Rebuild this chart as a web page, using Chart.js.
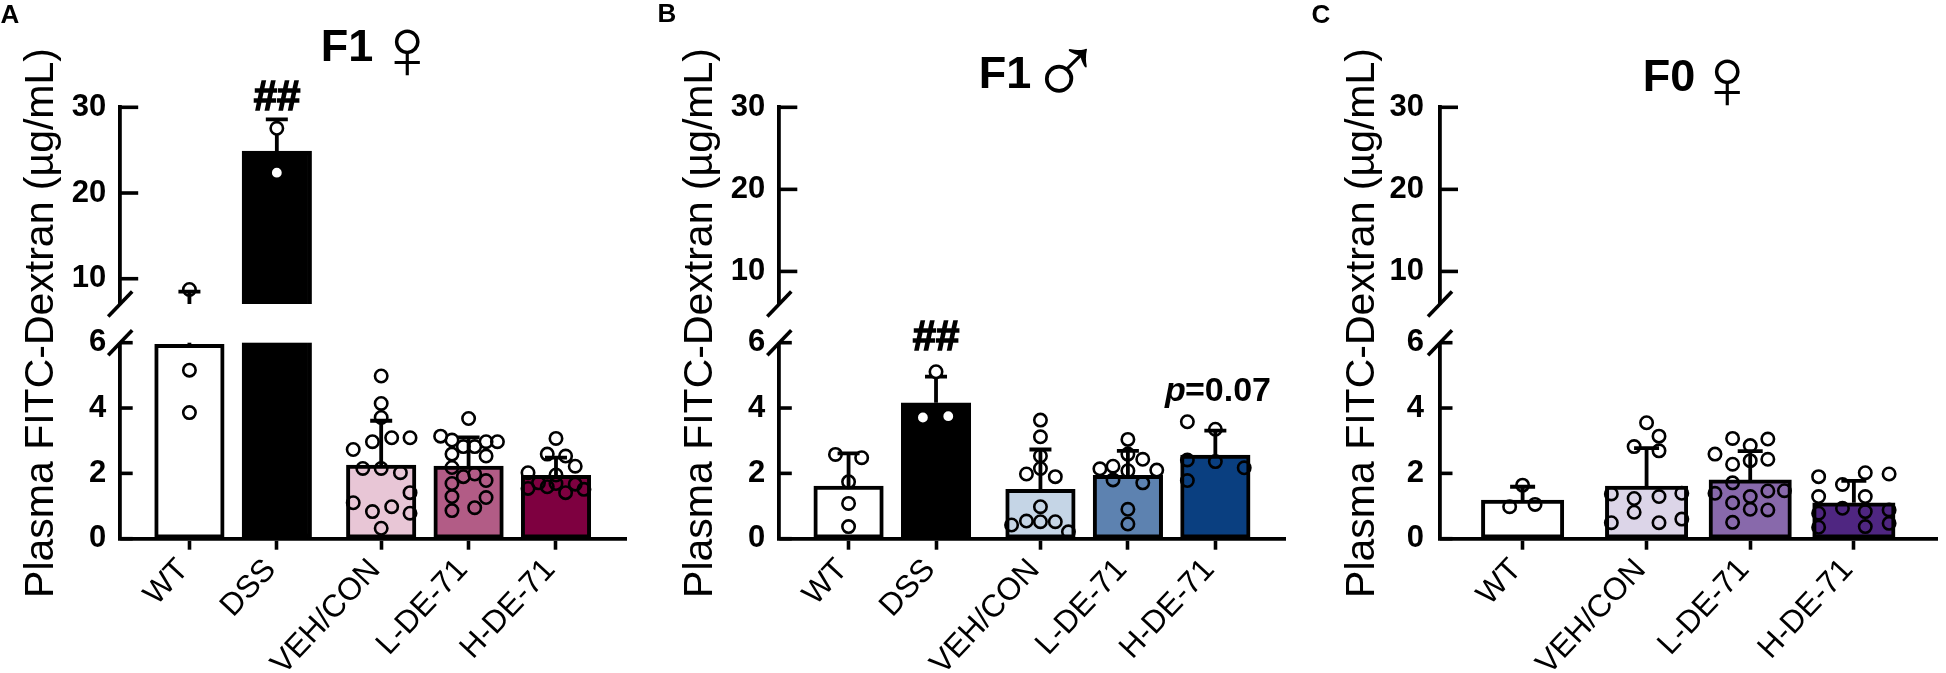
<!DOCTYPE html>
<html>
<head>
<meta charset="utf-8">
<title>Plasma FITC-Dextran</title>
<script src="https://cdn.jsdelivr.net/npm/chart.js@4/dist/chart.umd.js"></script>
<style>
  html, body { margin: 0; padding: 0; background: #fff; overflow: hidden; }
  canvas { position: absolute; top: 0; }
</style>
</head>
<body>
<canvas id="panelA" width="650" height="673" style="left:0"></canvas>
<canvas id="panelB" width="650" height="673" style="left:650px"></canvas>
<canvas id="panelC" width="646" height="673" style="left:1300px"></canvas>
<script>
// Shared axis values
const yTicks = [0, 2, 4, 6, 10, 20, 30];
const yTitle = 'Plasma FITC-Dextran (µg/mL)';

// Panel A, F1 female
const groupsA = ['WT', 'DSS', 'VEH/CON', 'L-DE-71', 'H-DE-71'];
const meansA = [5.95, 24.9, 2.25, 2.22, 1.94];
const errTopsA = [8.5, 28.6, 3.61, 3.1, 2.48];
const dotsA = [
  [8.75, 5.16, 3.86],
  [27.55, 22.37],
  [4.98, 4.14, 3.71, 3.09, 3.09, 2.97, 2.73, 2.15, 2.15, 2.02, 1.41, 1.1, 0.98, 0.83, 0.78, 0.32],
  [3.68, 3.14, 3.02, 2.82, 2.82, 2.97, 2.97, 2.59, 2.53, 2.18, 1.9, 1.98, 1.69, 1.78, 1.29, 1.26, 0.86, 0.95],
  [3.07, 2.59, 2.53, 2.22, 2.02, 1.95, 1.54, 1.59, 1.41, 1.67, 1.71, 1.69, 1.51]
];
const jitterA = [
  [0, 0, 0],
  [0, 0],
  [0, 0, 0, 0.33, 0.12, -0.1, -0.32, -0.21, 0, 0.22, 0.33, -0.32, 0.12, -0.1, 0.33, 0],
  [0, -0.32, -0.19, -0.06, 0.07, 0.2, 0.33, -0.19, 0.2, -0.19, -0.06, 0.07, -0.19, 0.2, -0.19, 0.2, -0.19, 0.07],
  [0, -0.1, 0.11, 0.22, -0.32, 0, -0.32, -0.1, 0.11, 0.22, -0.2, 0, 0.32]
];

// Panel B, F1 male
const groupsB = ['WT', 'DSS', 'VEH/CON', 'L-DE-71', 'H-DE-71'];
const meansB = [1.61, 4.16, 1.51, 1.94, 2.56];
const errTopsB = [2.61, 4.96, 2.73, 2.69, 3.31];
const dotsB = [
  [2.58, 2.48, 1.74, 1.08, 0.37],
  [5.11, 3.71, 3.75],
  [3.63, 3.12, 2.53, 2.15, 1.98, 1.9, 0.98, 0.54, 0.52, 0.52, 0.42, 0.21],
  [3.04, 2.59, 2.43, 2.22, 2.14, 2.08, 2.1, 1.8, 1.71, 0.9, 0.45],
  [3.58, 3.35, 2.41, 2.36, 2.17, 1.78]
];
const jitterB = [
  [-0.15, 0.15, 0, 0, 0],
  [0, -0.15, 0.14],
  [0, 0, 0, 0, -0.16, 0.17, 0, -0.16, 0, 0.17, -0.33, 0.32],
  [0, 0, 0.17, -0.17, -0.32, 0, 0.33, -0.17, 0.17, 0, 0],
  [-0.32, 0, -0.32, 0, 0.33, -0.32]
];

// Panel C, F0 female
const groupsC = ['WT', 'VEH/CON', 'L-DE-71', 'H-DE-71'];
const meansC = [1.18, 1.61, 1.8, 1.1];
const errTopsC = [1.59, 2.77, 2.68, 1.77];
const dotsC = [
  [1.64, 0.98, 1.05],
  [3.55, 3.14, 2.82, 2.69, 1.37, 1.23, 1.29, 1.39, 0.81, 0.49, 0.49, 0.6],
  [3.07, 3.05, 2.85, 2.59, 2.43, 2.39, 2.28, 1.71, 1.39, 1.47, 1.46, 1.29, 1.1, 0.9, 0.88, 0.5],
  [1.9, 2.02, 1.98, 1.66, 1.29, 1.29, 0.93, 0.78, 0.83, 0.88, 0.35, 0.37, 0.47]
];
const jitterC = [
  [0, -0.125, 0.12],
  [0, 0.12, -0.12, 0.12, -0.34, -0.12, 0.12, 0.34, -0.12, -0.34, 0.12, 0.34],
  [-0.17, 0.17, 0, -0.34, 0.17, 0, -0.17, -0.17, -0.34, 0.33, 0.17, 0, -0.17, 0, 0.17, -0.17],
  [-0.34, 0.11, 0.34, -0.11, -0.34, 0.11, -0.11, -0.34, 0.11, 0.34, -0.34, 0.11, 0.34]
];

// Piecewise y scale with an axis break
class BrokenScale extends Chart.LinearScale {
  static id = 'broken';
  static defaults = {};

  getDecimalForValue(value) {
    const { breakLow, breakHigh, lowShare, gapShare } = this.options;
    if (value <= breakLow) return (value / breakLow) * lowShare;
    if (value < breakHigh) return lowShare + ((value - breakLow) / (breakHigh - breakLow)) * gapShare;
    return lowShare + gapShare + ((value - breakHigh) / (this.max - breakHigh)) * (1 - lowShare - gapShare);
  }

  getPixelForValue(value) {
    if (value === null) return NaN;
    return this.getPixelForDecimal(this.getDecimalForValue(value));
  }

  getValueForPixel(pixel) {
    const { breakLow, breakHigh, lowShare, gapShare } = this.options;
    const d = this.getDecimalForPixel(pixel);
    if (d <= lowShare) return (d / lowShare) * breakLow;
    if (d < lowShare + gapShare) return breakLow + ((d - lowShare) / gapShare) * (breakHigh - breakLow);
    return breakHigh + ((d - lowShare - gapShare) / (1 - lowShare - gapShare)) * (this.max - breakHigh);
  }
}
Chart.register(BrokenScale);

// Draws error bars between the bars and the dots
const errorBarPlugin = {
  id: 'errorBars',
  afterDatasetDraw(chart, args, opts) {
    if (args.meta.type !== 'bar') return;
    const ctx = chart.ctx;
    const y = chart.scales.y;
    const x = chart.scales.x;
    ctx.save();
    ctx.strokeStyle = '#000';
    ctx.lineWidth = 3.8;
    opts.slots.forEach((slot, i) => {
      const px = x.getPixelForValue(slot);
      const top = y.getPixelForValue(opts.tops[i]);
      ctx.beginPath();
      ctx.moveTo(px, y.getPixelForValue(opts.means[i]));
      ctx.lineTo(px, top);
      ctx.moveTo(px - opts.capHalf, top);
      ctx.lineTo(px + opts.capHalf, top);
      ctx.stroke();
    });
    ctx.restore();
  }
};

// Axis break, inward y ticks and the free text of each panel
const panelDecorPlugin = {
  id: 'panelDecor',
  afterDatasetsDraw(chart, args, opts) {
    const ctx = chart.ctx;
    const y = chart.scales.y;
    const axisX = chart.chartArea.left;
    const lowY = y.getPixelForValue(y.options.breakLow);
    const highY = y.getPixelForValue(y.options.breakHigh);

    ctx.save();
    ctx.fillStyle = '#fff';
    ctx.fillRect(axisX - 3, highY, chart.width - axisX + 3, lowY - highY);

    ctx.strokeStyle = '#000';
    ctx.lineWidth = 3.6;
    yTicks.forEach(v => {
      const len = v > y.options.breakLow ? 18 : 12.5;
      const py = y.getPixelForValue(v);
      ctx.beginPath();
      ctx.moveTo(axisX, py);
      ctx.lineTo(axisX + len, py);
      ctx.stroke();
    });
    [highY, lowY].forEach(py => {
      ctx.beginPath();
      ctx.moveTo(axisX - 12, py + 12.5);
      ctx.lineTo(axisX + 12, py - 12.5);
      ctx.stroke();
    });

    ctx.fillStyle = '#000';
    ctx.textBaseline = 'middle';
    opts.labels.forEach(item => {
      ctx.font = item.font;
      ctx.textAlign = item.align || 'center';
      ctx.fillText(item.text, item.x, item.y);
      if (item.heavy) {
        ctx.lineWidth = item.heavy;
        ctx.strokeText(item.text, item.x, item.y);
      }
    });
    ctx.restore();
  }
};

function buildPanel(id, cfg) {
  const slots = cfg.slots;
  const dotPoints = [];
  const dotFills = [];
  cfg.dots.forEach((values, g) => {
    values.forEach((v, k) => {
      dotPoints.push({ x: slots[g] + cfg.jitter[g][k], y: v });
      dotFills.push(cfg.groups[g] === 'DSS' ? '#fff' : 'rgba(0,0,0,0)');
    });
  });

  return new Chart(document.getElementById(id), {
    type: 'bar',
    data: {
      datasets: [
        {
          type: 'scatter',
          order: 1,
          data: dotPoints,
          clip: false,
          pointRadius: 6.2,
          pointBorderWidth: 2.6,
          pointBorderColor: '#000',
          pointBackgroundColor: dotFills
        },
        {
          type: 'bar',
          order: 2,
          data: slots.map((s, i) => ({ x: s, y: cfg.means[i] })),
          backgroundColor: cfg.colors,
          borderColor: '#000',
          borderWidth: 4,
          borderSkipped: false,
          barThickness: cfg.barWidth,
          clip: false
        }
      ]
    },
    options: {
      responsive: false,
      animation: false,
      devicePixelRatio: 1,
      layout: { padding: { left: 0, top: 107.3, right: cfg.rightPad, bottom: 0 } },
      plugins: {
        legend: { display: false },
        tooltip: { enabled: false },
        errorBars: { slots: slots, tops: cfg.tops, means: cfg.means, capHalf: cfg.capHalf },
        panelDecor: { labels: cfg.labels }
      },
      scales: {
        x: {
          type: 'linear',
          min: cfg.xMin,
          max: cfg.xMax,
          offset: false,
          afterBuildTicks: axis => { axis.ticks = slots.map(s => ({ value: s })); },
          afterFit: axis => { axis.height = 134.3; axis.paddingLeft = 0; axis.paddingRight = 0; },
          border: { color: '#000', width: 3.8 },
          grid: { offset: false, drawOnChartArea: false, drawTicks: true, tickLength: 11, tickWidth: 3.6, tickColor: '#000' },
          ticks: {
            autoSkip: false,
            minRotation: 47,
            maxRotation: 47,
            padding: 2,
            labelOffset: -6,
            color: '#000',
            font: { size: 31.5 },
            callback: value => cfg.groups[slots.indexOf(value)]
          }
        },
        y: {
          type: 'broken',
          min: 0,
          max: 30,
          breakLow: 6,
          breakHigh: cfg.breakHigh,
          lowShare: 196 / 431.4,
          gapShare: 38.7 / 431.4,
          afterBuildTicks: axis => { axis.ticks = yTicks.map(v => ({ value: v })); },
          afterFit: axis => { axis.width = cfg.axisX; axis.paddingTop = 0; axis.paddingBottom = 0; },
          border: { color: '#000', width: 3.8 },
          grid: { drawOnChartArea: false, drawTicks: false },
          title: {
            display: true,
            text: yTitle,
            color: '#000',
            font: { size: 41, lineHeight: 1.2 },
            padding: { top: cfg.titlePad, bottom: 0 }
          },
          ticks: {
            autoSkip: false,
            padding: cfg.tickPad,
            color: '#000',
            font: { size: 31, weight: 'bold' },
            callback: value => String(value)
          }
        }
      }
    },
    plugins: [errorBarPlugin, panelDecorPlugin]
  });
}

Chart.defaults.font.family = '"Liberation Sans", Arial, sans-serif';

const letterFont = 'bold 26px "Liberation Sans"';
const headFont = 'bold 45px "Liberation Sans"';
const femaleFont = '88px "Liberation Sans"';
const maleFont = '100px "Liberation Sans"';

buildPanel('panelA', {
  groups: groupsA, means: meansA, tops: errTopsA, dots: dotsA, jitter: jitterA,
  slots: [1, 2, 3.194, 4.194, 5.194],
  colors: ['#ffffff', '#000000', '#e8c6d6', '#b25c86', '#7e0040'],
  barWidth: 69.5, capHalf: 11,
  axisX: 120.2, rightPad: 24, xMin: 0.208, xMax: 5.995,
  breakHigh: 7.05, titlePad: 17, tickPad: 14,
  labels: [
    { text: 'A', x: 10, y: 16, font: letterFont },
    { text: 'F1', x: 347, y: 49, font: headFont },
    { text: '♀', x: 407, y: 55, font: femaleFont },
    { text: '##', x: 277, y: 98, font: 'bold 42px "Liberation Sans"', heavy: 1.5 }
  ]
});

buildPanel('panelB', {
  groups: groupsB, means: meansB, tops: errTopsB, dots: dotsB, jitter: jitterB,
  slots: [1, 2, 3.194, 4.194, 5.194],
  colors: ['#ffffff', '#000000', '#c5d5e6', '#5d82b0', '#0a3f80'],
  barWidth: 69.5, capHalf: 11,
  axisX: 129.3, rightPad: 14.6, xMin: 0.208, xMax: 5.995,
  breakHigh: 6.03, titlePad: 26, tickPad: 14,
  labels: [
    { text: 'B', x: 17, y: 15, font: letterFont },
    { text: 'F1', x: 355, y: 76, font: headFont },
    { text: '♂', x: 416, y: 77, font: maleFont },
    { text: '##', x: 286, y: 338, font: 'bold 42px "Liberation Sans"', heavy: 1.5 },
    { text: 'p', x: 515, y: 392, align: 'left', font: 'italic bold 34px "Liberation Sans"' },
    { text: '=0.07', x: 535, y: 392, align: 'left', font: 'bold 34px "Liberation Sans"' }
  ]
});

buildPanel('panelC', {
  groups: groupsC, means: meansC, tops: errTopsC, dots: dotsC, jitter: jitterC,
  slots: [1, 2.196, 3.196, 4.196],
  colors: ['#ffffff', '#dcd5e8', '#8869ab', '#4f2681'],
  barWidth: 82.4, capHalf: 12.5,
  axisX: 140, rightPad: 0, xMin: 0.203, xMax: 5.0,
  breakHigh: 6.03, titlePad: 38, tickPad: 16,
  labels: [
    { text: 'C', x: 21, y: 16, font: letterFont },
    { text: 'F0', x: 369, y: 79, font: headFont },
    { text: '♀', x: 427, y: 85, font: femaleFont }
  ]
});
</script>
</body>
</html>
